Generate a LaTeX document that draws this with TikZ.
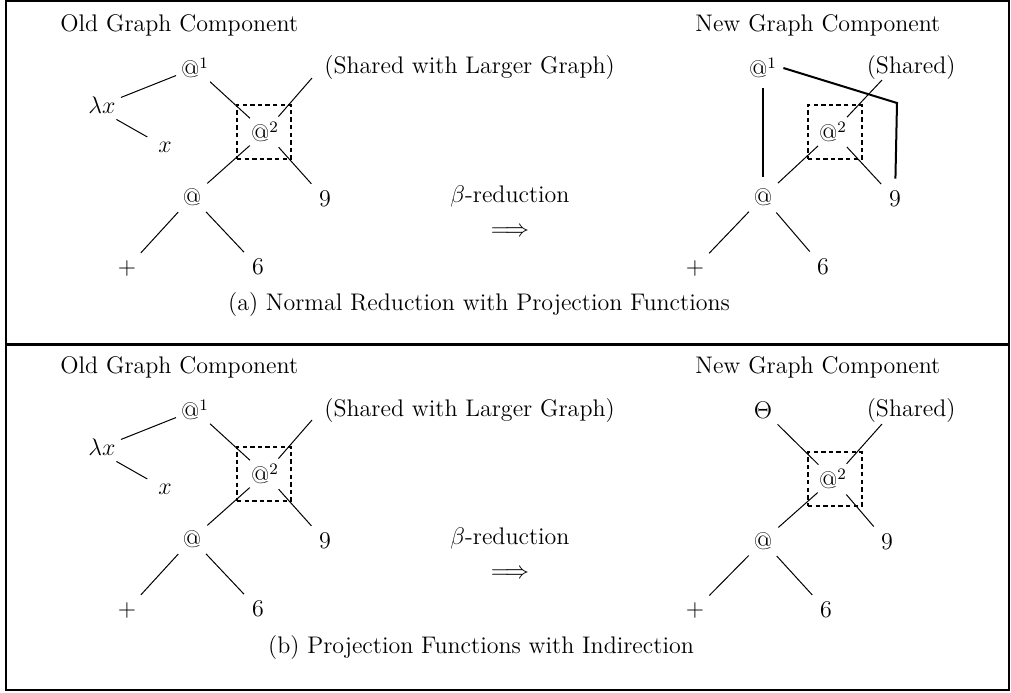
\documentclass[tikz,border=0pt]{standalone}
\usepackage{tikz}
\usetikzlibrary{positioning}
\tikzset{
    % Graph vertices and plain texts
    vertex/.style={
        circle,
        inner sep=0pt,
        minimum size=20pt,
        font=\fontsize{12}{14}\selectfont
    },
    plaintext/.style={
        inner sep=1pt,
        font=\fontsize{12}{14}\selectfont
    },
    steptext/.style={
        inner sep=0pt,
        align=center,
        font=\fontsize{12}{14}\selectfont
    },
    % Shared node marker
    sharebox/.style={
        rectangle,
        draw,
        line width=1pt,
        dash pattern=on 2.2pt off 1.6pt,
        minimum width=27pt,
        minimum height=27pt
    },
    % Line styles
    edge/.style={
        line width=0.5pt
    },
    projedge/.style={
        line width=1pt
    },
    frameline/.style={
        line width=1pt
    }
}

\begin{document}
\begin{tikzpicture}[x=0.5pt,y=-0.5pt]
    \useasboundingbox (0,0) rectangle (1011,692);

    % Frame
    \draw[frameline] (6,1) rectangle (1009,690);
    \draw[line width=1.5pt] (6,344) -- (1009,344);

    % ---------- (a) old graph ----------
    \node[plaintext,anchor=west] (aTitle) at (58,25) {Old Graph Component};
    \node[vertex] (aAt1) at (195,68) {@$^1$};
    \node[plaintext,anchor=west] (aShared) at (322,68) {(Shared with Larger Graph)};
    \node[vertex] (aLam) at (102,105) {$\lambda x$};
    \node[vertex] (aX) at (165,147) {$x$};
    \node[sharebox] (aBox) at (264,132) {};
    \node[vertex] (aAt2) at (265,132) {@$^2$};
    \node[vertex] (aAt) at (192,197) {@};
    \node[vertex] (aNine) at (325,199) {9};
    \node[vertex] (aPlus) at (127,268) {$+$};
    \node[vertex] (aSix) at (258,267) {6};
    \coordinate (aSharedEnd) at (312,78);

    \draw[edge] (aLam) -- (aAt1);
    \draw[edge] (aLam.south east) -- (aX);
    \draw[edge] (aAt1) -- (aAt2);
    \draw[edge] (aSharedEnd) -- (aAt2);
    \draw[edge] (aAt2) -- (aAt);
    \draw[edge] (aAt2) -- (aNine);
    \draw[edge] (aAt) -- (aPlus);
    \draw[edge] (aAt) -- (aSix);

    % reduction step
    \node[steptext] (aBeta) at (510,211) {$\beta$-reduction\\[3pt]$\Longrightarrow$};

    % ---------- (a) new graph ----------
    \node[plaintext,anchor=west] (bTitle) at (693,25) {New Graph Component};
    \node[vertex] (bAt1) at (763,68) {@$^1$};
    \node[plaintext,anchor=east] (bShared) at (958,68) {(Shared)};
    \node[sharebox] (bBox) at (835,132) {};
    \node[vertex] (bAt2) at (833,132) {@$^2$};
    \node[vertex] (bAt) at (763,197) {@};
    \node[vertex] (bNine) at (895,199) {9};
    \node[vertex] (bPlus) at (695,268) {$+$};
    \node[vertex] (bSix) at (823,267) {6};
    \coordinate (bSharedEnd) at (882,80);
    \coordinate (bCorner) at (897,103);

    \draw[projedge] (bAt1) -- (bAt);
    \draw[projedge] (bAt1.east) -- (bCorner) -- (bNine);
    \draw[edge] (bSharedEnd) -- (bAt2);
    \draw[edge] (bAt2) -- (bAt);
    \draw[edge] (bAt2) -- (bNine);
    \draw[edge] (bAt) -- (bPlus);
    \draw[edge] (bAt) -- (bSix);

    \node[plaintext] (capA) at (479,305) {(a) Normal Reduction with Projection Functions};

    % ---------- (b) old graph ----------
    \node[plaintext,anchor=west] (cTitle) at (58,367) {Old Graph Component};
    \node[vertex] (cAt1) at (195,410) {@$^1$};
    \node[plaintext,anchor=west] (cShared) at (322,410) {(Shared with Larger Graph)};
    \node[vertex] (cLam) at (102,447) {$\lambda x$};
    \node[vertex] (cX) at (165,489) {$x$};
    \node[sharebox] (cBox) at (264,474) {};
    \node[vertex] (cAt2) at (265,474) {@$^2$};
    \node[vertex] (cAt) at (192,539) {@};
    \node[vertex] (cNine) at (325,541) {9};
    \node[vertex] (cPlus) at (127,610) {$+$};
    \node[vertex] (cSix) at (258,609) {6};
    \coordinate (cSharedEnd) at (312,420);

    \draw[edge] (cLam) -- (cAt1);
    \draw[edge] (cLam.south east) -- (cX);
    \draw[edge] (cAt1) -- (cAt2);
    \draw[edge] (cSharedEnd) -- (cAt2);
    \draw[edge] (cAt2) -- (cAt);
    \draw[edge] (cAt2) -- (cNine);
    \draw[edge] (cAt) -- (cPlus);
    \draw[edge] (cAt) -- (cSix);

    % reduction step
    \node[steptext] (cBeta) at (510,553) {$\beta$-reduction\\[3pt]$\Longrightarrow$};

    % ---------- (b) new graph ----------
    \node[plaintext,anchor=west] (dTitle) at (693,367) {New Graph Component};
    \node[vertex] (dTheta) at (763,410) {$\Theta$};
    \node[plaintext,anchor=east] (dShared) at (958,410) {(Shared)};
    \node[sharebox] (dBox) at (835,479) {};
    \node[vertex] (dAt2) at (833,479) {@$^2$};
    \node[vertex] (dAt) at (763,541) {@};
    \node[vertex] (dNine) at (887,542) {9};
    \node[vertex] (dPlus) at (695,610) {$+$};
    \node[vertex] (dSix) at (826,610) {6};
    \coordinate (dSharedEnd) at (882,424);

    \draw[edge] (dTheta) -- (dAt2);
    \draw[edge] (dSharedEnd) -- (dAt2);
    \draw[edge] (dAt2) -- (dAt);
    \draw[edge] (dAt2) -- (dNine);
    \draw[edge] (dAt) -- (dPlus);
    \draw[edge] (dAt) -- (dSix);

    \node[plaintext] (capB) at (481,647) {(b) Projection Functions with Indirection};
\end{tikzpicture}
\end{document}
